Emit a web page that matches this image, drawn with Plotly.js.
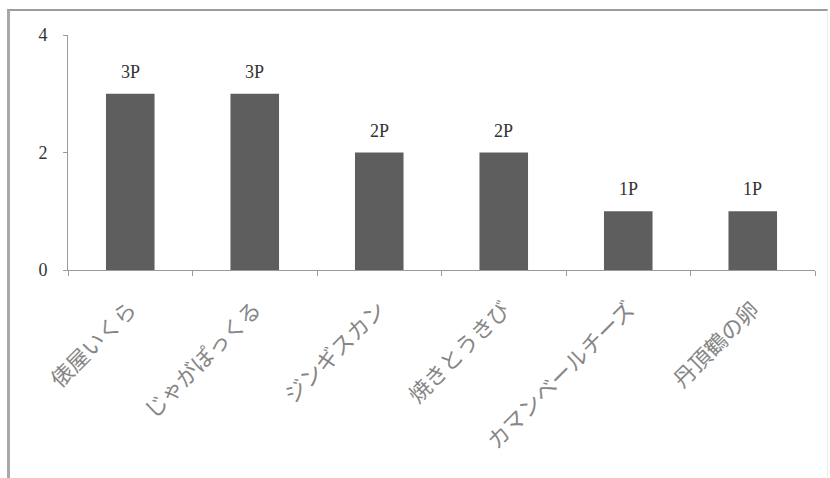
<!DOCTYPE html>
<html>
<head>
<meta charset="utf-8">
<script src="https://cdn.plot.ly/plotly-3.0.1.min.js"></script>
<style>
  html, body { margin: 0; padding: 0; background: #fff; }
  #wrap { position: relative; width: 830px; height: 478px; overflow: hidden; }
  #frame {
    position: absolute; left: 7px; top: 9px; width: 817px; height: 480px;
    border-left: 3px solid #a9a9a9; border-top: 2px solid #9c9c9c;
    border-right: 1px solid #ececec; pointer-events: none; z-index: 5;
  }
  #chart { position: absolute; left: 0; top: 0; width: 830px; height: 478px; }
</style>
</head>
<body>
<div id="wrap">
  <div id="chart"></div>
  <div id="frame"></div>
</div>
<script>
// 北海道のおみやげ ― 獲得ポイント
const categories = ['俵屋いくら', 'じゃがぽっくる', 'ジンギスカン', '焼きとうきび', 'カマンベールチーズ', '丹頂鶴の卵'];
const points = [3, 3, 2, 2, 1, 1];
const pointLabels = points.map(v => v + 'P');
const yTicks = [0, 2, 4];

const serif = 'Liberation Serif, DejaVu Serif, serif';
const gothic = 'Noto Sans CJK JP, sans-serif';

const trace = {
  type: 'bar',
  x: categories,
  y: points,
  marker: { color: '#5e5e5e', line: { width: 0 } },
  hoverinfo: 'skip'
};

// value labels sit above each bar
const annotations = categories.map((c, i) => ({
  x: c, y: points[i], xref: 'x', yref: 'y',
  text: pointLabels[i], showarrow: false,
  yanchor: 'bottom', yshift: 10,
  font: { family: serif, size: 18, color: '#333' }
}));

const layout = {
  width: 830, height: 478,
  margin: { l: 68, r: 15, t: 35, b: 208 },
  paper_bgcolor: '#fff', plot_bgcolor: '#fff',
  showlegend: false,
  bargap: 0.61,
  font: { family: serif },
  xaxis: {
    type: 'category',
    tickson: 'boundaries',
    ticks: 'outside', ticklen: 5, tickcolor: '#9a9a9a', tickwidth: 1,
    showline: true, linecolor: '#9a9a9a', linewidth: 1,
    showgrid: false, zeroline: false,
    tickangle: -45,
    ticklabelstandoff: 17,
    tickfont: { family: gothic, size: 22, color: '#868686' },
    fixedrange: true
  },
  yaxis: {
    range: [0, 4],
    tickvals: yTicks,
    ticktext: yTicks.map(String),
    ticks: 'outside', ticklen: 4, tickcolor: '#9a9a9a', tickwidth: 1,
    showline: true, linecolor: '#9a9a9a', linewidth: 1,
    showgrid: false, zeroline: false,
    ticklabelstandoff: 12,
    tickfont: { family: serif, size: 18, color: '#333' },
    fixedrange: true
  },
  annotations: annotations
};

Plotly.newPlot('chart', [trace], layout, { displayModeBar: false, staticPlot: true });
</script>
</body>
</html>
